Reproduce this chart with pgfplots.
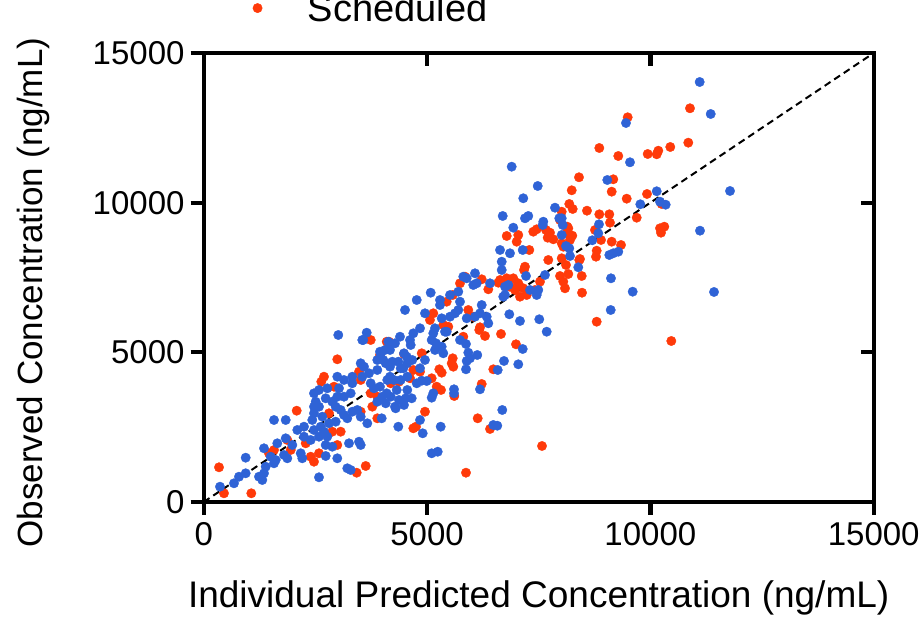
\documentclass[border=0pt]{standalone}
\usepackage{fontspec}
\setmainfont{Liberation Sans}
\usepackage{pgfplots}
\pgfplotsset{compat=1.18}
\definecolor{sblue}{RGB}{47,99,214}
\definecolor{sred}{RGB}{255,58,10}
\begin{document}
\begin{tikzpicture}
\begin{axis}[
 width=670pt, height=449pt, scale only axis,
 xmin=0,xmax=15000,ymin=0,ymax=15000,
 xtick={0,5000,10000,15000}, ytick={0,5000,10000,15000},
 scaled ticks=false,
 axis line style={line width=4.3pt, line cap=rect},
 tick style={black, line width=4.3pt},
 major tick length=13pt,
 tick align=outside,
 xtick pos=left, ytick pos=left,
 /pgf/number format/1000 sep={},
 /pgf/number format/assume math mode=true,
 ticklabel style={font=\fontsize{33}{40}\selectfont},
 xticklabel style={inner sep=7pt},
 yticklabel style={inner sep=6pt},
 xlabel={Individual Predicted Concentration (ng/mL)},
 ylabel={Observed Concentration (ng/mL)},
 xlabel style={font=\fontsize{37}{44}\selectfont, at={(axis description cs:0.5,-0.2339)}, anchor=base},
 ylabel style={font=\fontsize{35}{42}\selectfont, at={(axis description cs:-0.2413,0.4666)}, anchor=base},
 legend style={draw=none, fill=none, at={(axis description cs:0.0728,1.1)}, anchor=west,
   font=\fontsize{38}{45}\selectfont, inner sep=0pt, nodes={inner sep=0pt}},
 legend image code/.code={\fill (0pt,0pt) circle (4.7pt); \path (50pt,0pt);},
]
\coordinate (O) at (rel axis cs:0,0);
\addplot[only marks, mark=*, mark size=4.7pt, color=sred, mark options={draw=none, fill=sred}] coordinates {
(9492,12852) (10887,13153) (8857,11826) (9282,11559) (9940,11626) (10142,11616) (10178,11736) (10446,11860) (10849,12004) (8402,10848) (9170,10781) (8239,10413) (9134,10367) (9470,10133) (9925,10290) (8185,9956) (8261,9789) (8015,9698) (8581,9732) (8857,9611) (9081,9611) (9096,9331) (9694,9498) (8140,9197) (8252,8897) (8760,9087) (8895,8753) (9134,8696) (9343,8586) (10216,9144) (10312,9197) (10238,8997) (10254,9956) (8798,8395) (8783,8195) (8424,8118) (10469,5379)
(6784,8887) (7043,8920) (7007,8696) (7379,9030) (7455,9110) (7663,9087) (7753,8997) (7701,8830) (7827,8776) (7977,9421) (8163,9144) (8127,8977) (8201,8753) (8015,8643) (8051,8529) (7290,8419) (7193,7861) (7171,7751) (7715,8085) (8015,8142) (8111,7918) (8163,7617) (8409,8085) (7977,7550) (8051,7360) (8089,7139) (8463,7550) (8470,6992) (7529,7360) (7417,7083) (6634,7417) (6784,7473) (6931,7473) (7043,7306) (6969,7083) (7081,6859) (7231,6915) (6857,7193) (8798,6023)
(6298,5546) (6656,5613) (6170,5746) (5812,5522) (6992,5268) (5575,4801) (5588,4520) (5552,4634) (5275,4433) (5328,4320) (6484,4433) (5104,4133) (5216,3852) (5313,3742) (6224,3942) (5610,3541) (4954,3017) (6134,2796) (6410,2439) (7574,1871) (5872,979) (4881,4968)
(6224,7440) (6372,7106) (6596,7326) (7155,7139) (5850,7527) (5738,7306) (5575,6915) (5440,6692) (5924,6414) (6036,6191) (6186,5836) (5140,6304) (5066,6080) (5364,5913) (5476,5856) (4753,2516) (4097,5355) (3947,4911) (4693,4410) (4843,4353) (4619,4133)
(343,1159) (454,291) (1066,291) (2082,3050) (2991,4767) (2633,4019) (3425,979) (3627,1203) (2469,1346) (2396,1513) (2581,1627) (3067,2349) (2879,2349) (2991,1904) (2284,1961) (1462,1627) (1574,1737) (1872,2071) (1948,1737) (2805,2963) (3739,5412) (4149,5355) (3477,4353) (3515,4076) (3887,3518) (3739,3631) (4187,3966) (4372,4019) (4693,2462) (2917,3852) (2693,4186) (4484,4944) (3515,3017) (3887,2796) (3775,3184)
};
\addlegendentry{Scheduled}
\addplot[only marks, mark=*, mark size=4.7pt, color=sblue, mark options={draw=none, fill=sblue}] coordinates {
(11104,14031) (11351,12962) (9454,12662) (9544,11349) (9036,10757) (10142,10380) (9775,9946) (10216,10032) (10343,9932) (11783,10390) (11111,9064) (8850,9277) (8834,8977) (8700,8743) (8015,9478) (8037,9254) (8015,8920) (8111,8552) (8185,8476) (9081,8252) (9170,8309) (9282,8362) (11425,7016)
(6895,11202) (7478,10557) (7155,10146) (7865,9832) (6694,9555) (7193,9478) (7267,9555) (7603,9364) (7590,9254) (7961,9478) (6931,9164) (8201,8218) (7142,8419) (6857,8309) (6634,8419) (6672,8028) (6672,7751) (7216,7550) (7641,7584) (8386,7841) (9118,7473) (9604,7026) (7455,6915) (7491,7083) (7305,7083) (6745,7193) (6707,6859) (6842,6271) (7081,6047) (7513,6104) (9112,6414)
(7679,5689) (7142,5111) (7043,4600) (6723,4711) (6582,4410) (5738,5412) (5872,5278) (5924,4988) (6125,4911) (5962,4801) (5888,4711) (5872,4433) (5364,4968) (5328,5188) (5201,5302) (5104,5412) (5140,5636) (5402,5689) (4954,4744) (4843,4467) (4993,4042) (4881,4052) (5604,3765) (5604,3631) (6186,3765) (5104,3484) (6685,3074) (4843,2739) (4903,2295) (5306,2516) (6484,2572) (6573,2549) (5104,1627) (5239,1680)
(6074,7640) (5888,7473) (5812,7527) (6036,7250) (6112,7306) (6410,7306) (6745,6915) (6819,7250) (5082,6992) (5514,6915) (5700,7026) (4769,6748) (5290,6748) (5290,6581) (5738,6692) (5700,6414) (4507,6414) (4954,6304) (5328,6137) (5514,6191) (5626,6304) (5888,6137) (6074,6191) (6186,6304) (6224,6581) (6372,5970) (6336,6191) (5440,5689) (5178,5803) (4843,5803) (4693,5636) (4395,5522) (4283,5302) (4133,5355) (4619,5412) (5178,5078) (3947,5021) (4021,4744) (4171,4520) (4357,4687) (4545,4854) (4469,4467) (4171,4186) (4769,3966) (5140,3631) (3947,3852) (4097,3631) (4321,3742) (4283,3184) (4657,3464) (3985,2796) (4357,2516) (3649,5656) (3573,5412) (4059,5078) (4171,5078)
(365,511) (678,625) (790,845) (940,959) (940,1480) (1238,845) (1312,735) (1350,959) (1350,1794) (1574,2739) (1836,2739) (1388,1179) (1574,1293) (1612,1403) (1500,1513) (1648,1961) (1836,2128) (1984,1904) (1798,1570) (2172,1627) (2207,1460) (1872,1460) (2096,2405) (2246,2516) (2431,2739) (2469,2963) (2581,3184) (2246,2182) (2469,2405) (2396,2071) (2581,2182) (2693,2349) (2619,2516) (2767,2182) (2731,1904) (2879,1847) (2581,825) (2731,1537) (2991,1460) (3215,1126) (3291,1069) (2469,3631) (2507,3351) (2469,3184) (2655,2850) (2805,2629) (2955,2683) (2581,3742) (2767,3798) (2731,3464) (2879,3351) (2991,3518) (3029,3798) (2955,3184) (3067,3074) (3141,2906) (3215,2796) (3327,3017) (3439,3074) (3515,2850) (3253,1961) (3477,2014) (3515,1904) (3663,2629) (3141,3518) (3291,3631) (3327,3966) (2991,4186) (3141,4076) (3327,4186) (3551,4186) (3515,4634) (3589,4520) (3701,4300) (3739,3966) (3813,3798) (3887,3351) (3998,3518) (4075,3297) (4187,3518) (4298,3130) (4372,3408) (4484,3241) (4558,3742) (4522,3464) (3887,4410) (4075,4634) (4222,4687) (4410,4467) (4558,4634) (4670,4744) (4484,4968) (4634,5245) (3963,4968) (3887,4744) (3551,5412) (3013,5579) (4110,4076) (4260,4076) (4410,4076) (4558,4186)
};
\addplot[black, line width=2pt, dash pattern=on 7pt off 4.5pt, forget plot] coordinates {(0,0) (15000,15000)};
\end{axis}
\begin{axis}[
 width=670pt, height=449pt, scale only axis,
 xmin=0,xmax=15000,ymin=0,ymax=15000,
 xtick={0,5000,10000,15000}, ytick={0,5000,10000,15000},
 scaled ticks=false,
 axis line style={line width=4.3pt, line cap=rect},
 tick style={black, line width=4.3pt},
 major tick length=13pt,
 tick align=inside,
 xtick pos=right, ytick pos=right,
 xticklabels={}, yticklabels={},
]
\end{axis}
\pgfresetboundingbox
\path[use as bounding box] ([shift={(-203.7pt,-115pt)}]O) rectangle ([shift={(719.3pt,502pt)}]O);
\end{tikzpicture}
\end{document}
